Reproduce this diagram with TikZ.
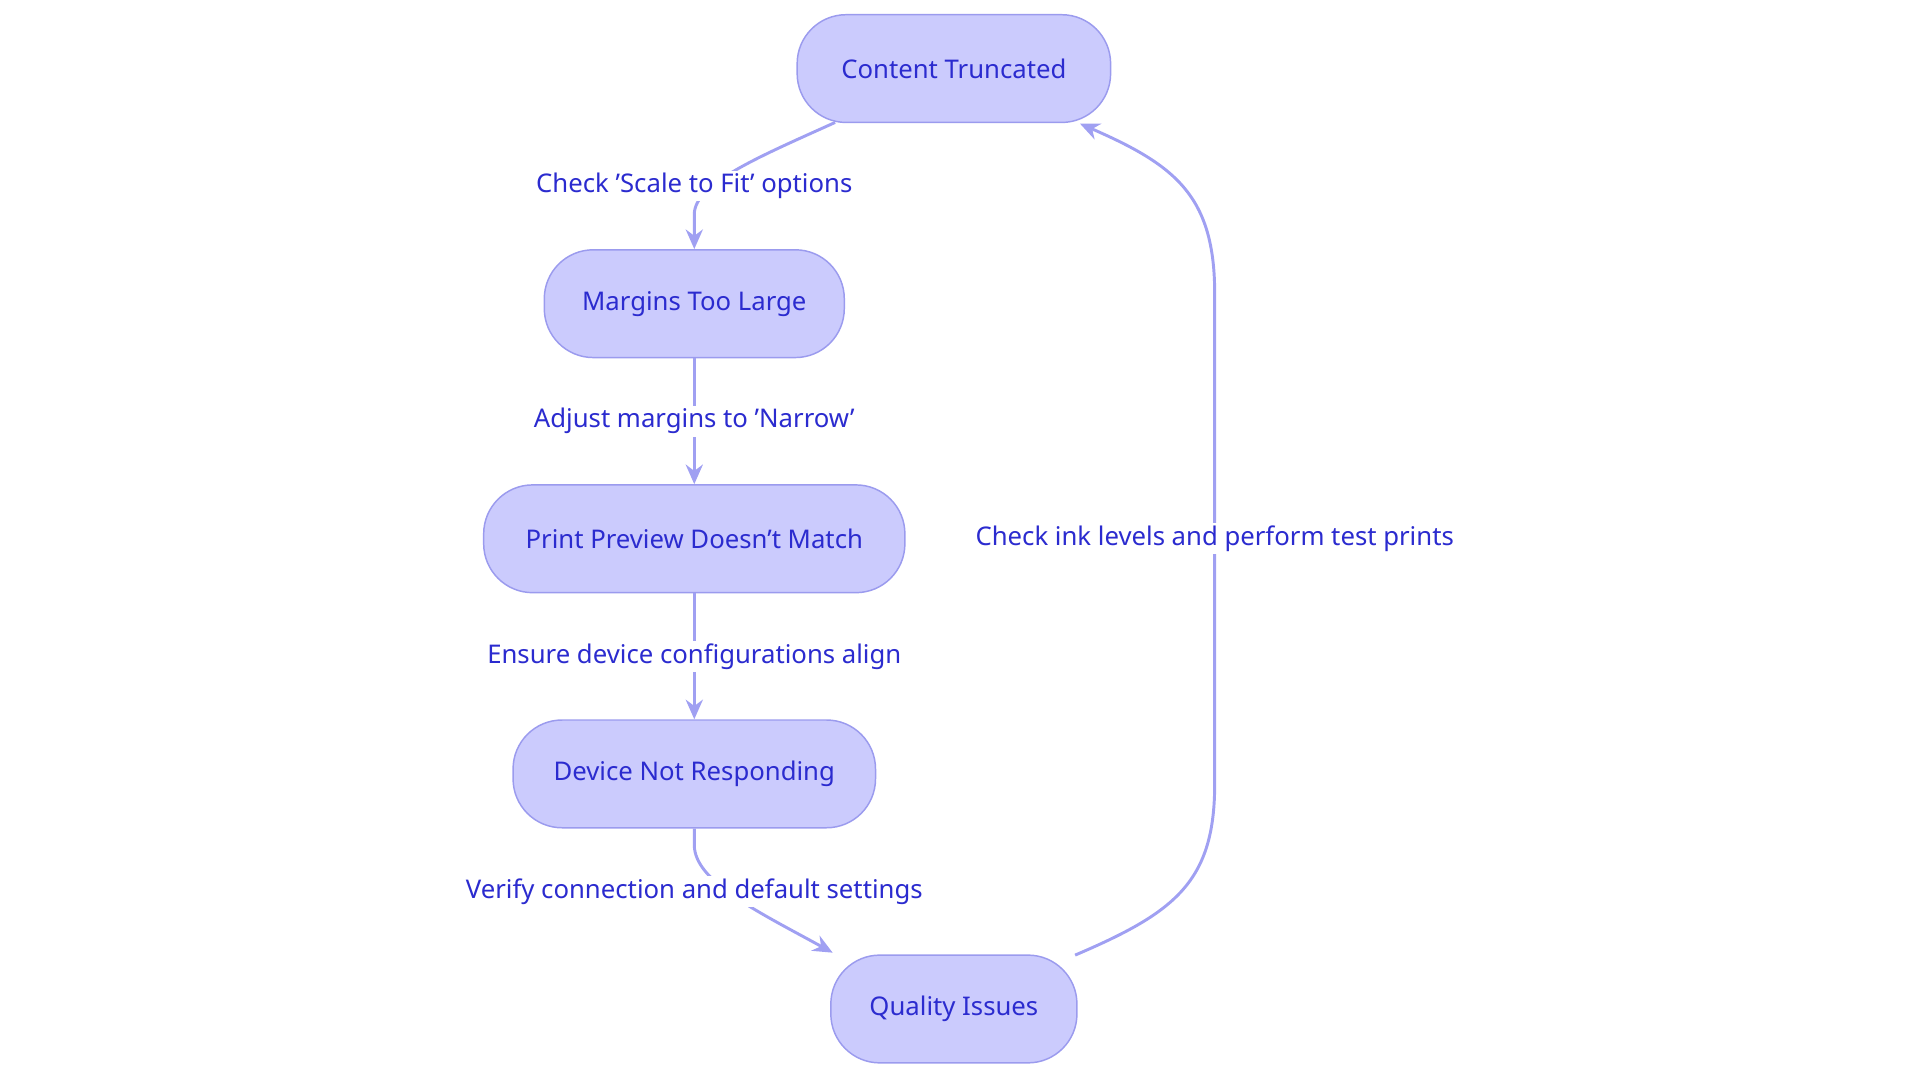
\documentclass[tikz,border=0pt]{standalone}
\usepackage{fontspec}
\setmainfont{Noto Sans}
\usetikzlibrary{arrows.meta}
\definecolor{nfill}{HTML}{CBCBFD}
\definecolor{nline}{HTML}{9B9BEE}
\definecolor{ntext}{HTML}{2B2BCF}
\definecolor{eline}{HTML}{A0A0F2}
\begin{document}
\begin{tikzpicture}[x=0.5pt,y=-0.5pt,
  box/.style={draw=nline,fill=nfill,rounded corners=20pt,minimum height=44pt,text=ntext,font=\fontsize{10.5}{12}\selectfont,line width=0.6pt},
  lab/.style={fill=white,text=ntext,font=\fontsize{10.5}{12}\selectfont,inner sep=1pt},
  edge/.style={draw=eline,line width=1.2pt,-{Stealth[length=8pt,width=7pt]}}]
\useasboundingbox (0,0) rectangle (1568,884);
\node[box,minimum width=128pt] (ct) at (779,56) {Content Truncated};
\node[box,minimum width=122.5pt] (mt) at (567,248) {Margins Too Large};
\node[box,minimum width=172pt] (pp) at (567,440) {Print Preview Doesn’t Match};
\node[box,minimum width=148pt] (dn) at (567,632) {Device Not Responding};
\node[box,minimum width=100.5pt] (qi) at (779,824) {Quality Issues};
\coordinate (a1) at (682,100);
\coordinate (a2) at (680,778);
\coordinate (q1) at (878,780);
\coordinate (c1) at (882,101);
\draw[edge] (a1) .. controls (620,128) and (567,150) .. (567,175) -- (mt.north);
\node[lab] at (567,152) {Check 'Scale to Fit' options};
\draw[edge] (mt) -- (pp);
\node[lab] at (567,344) {Adjust margins to 'Narrow'};
\draw[edge] (pp) -- (dn);
\node[lab] at (567,536) {Ensure device configurations align};
\draw[edge] (dn.south) -- (567,690) .. controls (567,720) and (620,745) .. (a2);
\node[lab] at (567,728) {Verify connection and default settings};
\draw[edge] (q1) .. controls (960,745) and (992,720) .. (992,640) -- (992,240) .. controls (992,160) and (960,135) .. (c1);
\node[lab] at (992,440) {Check ink levels and perform test prints};
\end{tikzpicture}
\end{document}
